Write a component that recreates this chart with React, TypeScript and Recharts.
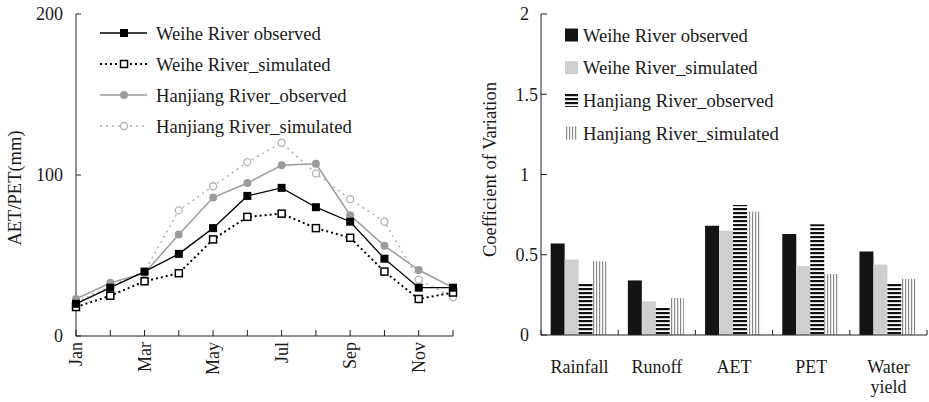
import React from 'react';
import { LineChart, Line, BarChart, Bar, XAxis, YAxis, Legend } from 'recharts';

// monthly AET/PET (mm)
const months = ['Jan', 'Feb', 'Mar', 'Apr', 'May', 'Jun', 'Jul', 'Aug', 'Sep', 'Oct', 'Nov', 'Dec'];
const weiheObserved = [20, 30, 40, 51, 67, 87, 92, 80, 71, 48, 30, 30];
const weiheSimulated = [18, 25, 34, 39, 60, 74, 76, 67, 61, 40, 23, 27];
const hanjiangObserved = [23, 33, 39, 63, 86, 95, 106, 107, 75, 56, 41, 30];
const hanjiangSimulated = [21, 31, 40, 78, 93, 108, 120, 101, 85, 71, 35, 24];
const aetTicks = [0, 100, 200];

// coefficient of variation
const cvCategories = ['Rainfall', 'Runoff', 'AET', 'PET', 'Water yield'];
const cvWeiheObserved = [0.57, 0.34, 0.68, 0.63, 0.52];
const cvWeiheSimulated = [0.47, 0.21, 0.65, 0.43, 0.44];
const cvHanjiangObserved = [0.32, 0.17, 0.81, 0.69, 0.32];
const cvHanjiangSimulated = [0.46, 0.23, 0.77, 0.38, 0.35];
const cvTicks = [0, 0.5, 1, 1.5, 2];

const lineData = months.map((m, i) => ({
  month: m,
  wo: weiheObserved[i],
  ws: weiheSimulated[i],
  ho: hanjiangObserved[i],
  hs: hanjiangSimulated[i],
}));

const barData = cvCategories.map((c, i) => ({
  name: c,
  wo: cvWeiheObserved[i],
  ws: cvWeiheSimulated[i],
  ho: cvHanjiangObserved[i],
  hs: cvHanjiangSimulated[i],
}));

const FONT = '"Liberation Serif", "Times New Roman", serif';
const INK = '#1a1a1a';
const AXIS = '#222';

// right chart geometry (used for the category boundary ticks)
const BAR_W = 459;
const BAR_YAXIS_W = 71;
const BAR_RIGHT = 2;
const BAND = (BAR_W - BAR_YAXIS_W - BAR_RIGHT) / cvCategories.length;
const CAT_TICK_SIZE = 6;
const CAT_TICK_MARGIN = 19;

type MarkerKind = 'filledSquare' | 'openSquare' | 'filledCircle' | 'openCircle';

const lineSeries: { key: string; name: string; color: string; dash?: string; width: number; marker: MarkerKind }[] = [
  { key: 'wo', name: 'Weihe River observed', color: '#000', width: 1.3, marker: 'filledSquare' },
  { key: 'ws', name: 'Weihe River_simulated', color: '#000', dash: '2 3', width: 2, marker: 'openSquare' },
  { key: 'ho', name: 'Hanjiang River_observed', color: '#9c9c9c', width: 1.5, marker: 'filledCircle' },
  { key: 'hs', name: 'Hanjiang River_simulated', color: '#b2b2b2', dash: '2 4', width: 1.5, marker: 'openCircle' },
];

const barSeries = [
  { key: 'wo', name: 'Weihe River observed', fill: '#141414' },
  { key: 'ws', name: 'Weihe River_simulated', fill: '#cfcfcf' },
  { key: 'ho', name: 'Hanjiang River_observed', fill: 'url(#hstripe)' },
  { key: 'hs', name: 'Hanjiang River_simulated', fill: 'url(#vstripe)' },
];

function renderMarker(kind: MarkerKind, cx: number, cy: number, color: string, key?: string) {
  if (cx == null || cy == null) return <g key={key} />;
  switch (kind) {
    case 'filledSquare':
      return <rect key={key} x={cx - 4} y={cy - 4} width={8} height={8} fill="#000" />;
    case 'openSquare':
      return <rect key={key} x={cx - 3.5} y={cy - 3.5} width={7} height={7} fill="#fff" stroke="#000" strokeWidth={1.5} />;
    case 'filledCircle':
      return <circle key={key} cx={cx} cy={cy} r={4} fill={color} />;
    default:
      return <circle key={key} cx={cx} cy={cy} r={3.5} fill="#fff" stroke={color} strokeWidth={1.3} />;
  }
}

const MonthTick = (props: any) => {
  const { x, y, payload } = props;
  const idx = months.indexOf(payload.value);
  if (idx % 2 !== 0) return <g />;
  return (
    <text x={x} y={y} transform={`rotate(-90, ${x}, ${y})`} textAnchor="end" dy="0.35em"
      fontSize={18} fontFamily={FONT} fill={INK}>
      {payload.value}
    </text>
  );
};

const AetTick = (props: any) => {
  const { x, y, payload } = props;
  return (
    <text x={x} y={y} dy="0.35em" textAnchor="end" fontSize={18} fontFamily={FONT} fill={INK}>
      {payload.value}
    </text>
  );
};

const CvTick = (props: any) => {
  const { x, y, payload } = props;
  const v = payload.value as number;
  return (
    <text x={Number.isInteger(v) ? x - 9 : x} y={y} dy="0.35em" textAnchor="end" fontSize={18} fontFamily={FONT} fill={INK}>
      {v}
    </text>
  );
};

// label in the middle of the band, tick marks on the band edges (pointing up)
const CategoryTick = (props: any) => {
  const { x, y, payload, index } = props;
  const words = String(payload.value).split(' ');
  const axisY = y - CAT_TICK_SIZE - CAT_TICK_MARGIN;
  const last = index === cvCategories.length - 1;
  const left = x - BAND / 2;
  const right = x + BAND / 2;
  return (
    <g>
      <line x1={left} x2={left} y1={axisY} y2={axisY - 5} stroke={AXIS} />
      {last && <line x1={right} x2={right} y1={axisY} y2={axisY - 5} stroke={AXIS} />}
      <text x={x} y={y} textAnchor="middle" fontSize={18} fontFamily={FONT} fill={INK}>
        {words.map((w, i) => (
          <tspan key={w} x={x} dy={i === 0 ? '0.71em' : '1.15em'}>{w}</tspan>
        ))}
      </text>
    </g>
  );
};

const AxisTitle = (props: any) => {
  const vb = props.viewBox || { x: 0, y: 14, width: 76, height: 322 };
  const cx = vb.x + props.dx;
  const cy = vb.y + vb.height / 2 + props.dy;
  return (
    <text x={cx} y={cy} transform={`rotate(-90, ${cx}, ${cy})`} textAnchor="middle" dominantBaseline="central"
      fontSize={18.5} fontFamily={FONT} fill={INK}>
      {props.text}
    </text>
  );
};

const LineLegend = () => (
  <svg width={330} height={130} style={{ display: 'block' }}>
    {lineSeries.map((s, i) => {
      const y = 15 + i * 31;
      return (
        <g key={s.key}>
          <line x1={4} x2={51} y1={y} y2={y} stroke={s.color} strokeWidth={s.width} strokeDasharray={s.dash} />
          {renderMarker(s.marker, 28, y, s.color)}
          <text x={60} y={y} dominantBaseline="central" fontSize={18.6} fontFamily={FONT} fill={INK}>{s.name}</text>
        </g>
      );
    })}
  </svg>
);

const BarLegend = () => (
  <svg width={340} height={140} style={{ display: 'block' }}>
    {barSeries.map((s, i) => {
      const y = 17 + i * 32.7;
      return (
        <g key={s.key}>
          <rect x={5} y={y - 6.5} width={13} height={13} fill={s.fill} />
          <text x={23} y={y} dominantBaseline="central" fontSize={18.6} fontFamily={FONT} fill={INK}>{s.name}</text>
        </g>
      );
    })}
  </svg>
);

export default function App() {
  return (
    <div style={{ position: 'absolute', left: 0, top: 0, width: 929, height: 402, background: '#fff', fontFamily: FONT }}>
      <svg width={0} height={0} style={{ position: 'absolute' }}>
        <defs>
          <pattern id="hstripe" patternUnits="userSpaceOnUse" width={4} height={4}>
            <rect width={4} height={4} fill="#fff" />
            <rect width={4} height={2.2} fill="#111" />
          </pattern>
          <pattern id="vstripe" patternUnits="userSpaceOnUse" width={3} height={3}>
            <rect width={3} height={3} fill="#fff" />
            <rect width={1.2} height={3} fill="#8a8a8a" />
          </pattern>
        </defs>
      </svg>

      <div style={{ position: 'absolute', left: 0, top: 0 }}>
        <LineChart width={470} height={402} data={lineData} margin={{ top: 14, right: 17, bottom: 0, left: 0 }}>
          <XAxis dataKey="month" scale="point" interval={0} height={66} tickSize={-6} tickMargin={12}
            axisLine={{ stroke: AXIS }} tickLine={{ stroke: AXIS }} tick={<MonthTick />} />
          <YAxis domain={[0, 200]} ticks={aetTicks} width={76} tickSize={-5} tickMargin={18}
            axisLine={{ stroke: AXIS }} tickLine={{ stroke: AXIS }} tick={<AetTick />}
            label={<AxisTitle text="AET/PET(mm)" dx={15} dy={13} />} />
          <Legend layout="vertical" align="center" verticalAlign="middle"
            wrapperStyle={{ top: 18, left: 96, width: 330, height: 130 }} content={() => <LineLegend />} />
          {[lineSeries[3], lineSeries[2], lineSeries[1], lineSeries[0]].map((s) => (
            <Line key={s.key} dataKey={s.key} name={s.name} type="linear" stroke={s.color} strokeWidth={s.width}
              strokeDasharray={s.dash} isAnimationActive={false} activeDot={false}
              dot={(p: any) => renderMarker(s.marker, p.cx, p.cy, s.color, `${s.key}-${p.index}`)} />
          ))}
        </LineChart>
      </div>

      <div style={{ position: 'absolute', left: 470, top: 0 }}>
        <BarChart width={BAR_W} height={402} data={barData} margin={{ top: 14, right: BAR_RIGHT, bottom: 0, left: 0 }}
          barCategoryGap="12.5%" barGap={0}>
          <XAxis dataKey="name" height={67} interval={0} axisLine={{ stroke: AXIS }} tickLine={false}
            tickSize={CAT_TICK_SIZE} tickMargin={CAT_TICK_MARGIN} tick={<CategoryTick />} />
          <YAxis domain={[0, 2]} ticks={cvTicks} width={BAR_YAXIS_W} tickSize={-6} tickMargin={9}
            axisLine={{ stroke: AXIS }} tickLine={{ stroke: AXIS }} tick={<CvTick />}
            label={<AxisTitle text="Coefficient of Variation" dx={20} dy={-5} />} />
          <Legend layout="vertical" align="center" verticalAlign="middle"
            wrapperStyle={{ top: 18, left: 90, width: 340, height: 140 }} content={() => <BarLegend />} />
          {barSeries.map((s) => (
            <Bar key={s.key} dataKey={s.key} name={s.name} fill={s.fill} isAnimationActive={false} />
          ))}
        </BarChart>
      </div>
    </div>
  );
}
